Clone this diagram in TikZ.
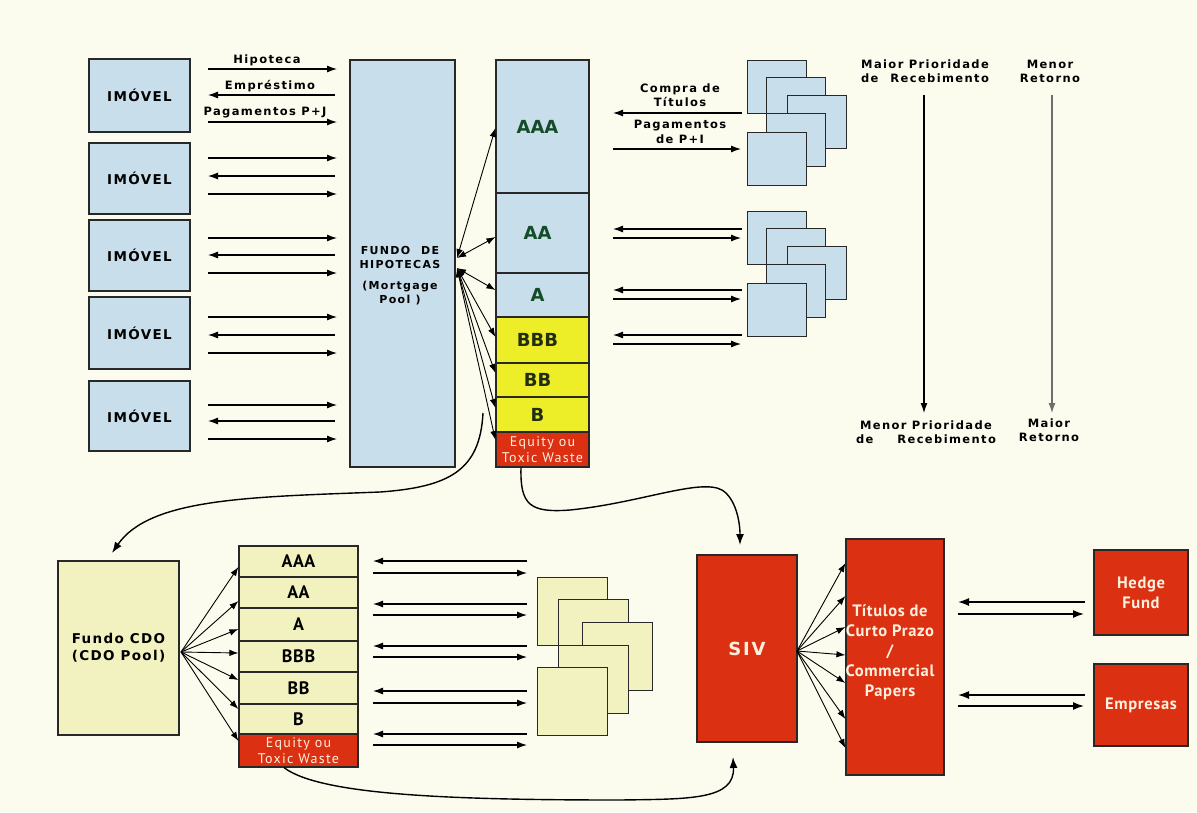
\documentclass[tikz,border=0pt]{standalone}
\usepackage{fontspec}
\setmainfont{DejaVu Sans}
\newfontfamily\wsp{DejaVu Sans}[LetterSpace=12]
\newfontfamily\wsm{DejaVu Sans}[LetterSpace=10]
\newfontfamily\nar{PT Sans}[LetterSpace=4]
\newfontfamily\narw{PT Sans}[LetterSpace=9]
\usetikzlibrary{arrows.meta}
\definecolor{bg}{RGB}{252,252,238}
\definecolor{lblue}{RGB}{200,223,235}
\definecolor{tyel}{RGB}{238,238,40}
\definecolor{tred}{RGB}{220,48,18}
\definecolor{cyel}{RGB}{242,242,192}
\definecolor{dgreen}{RGB}{20,75,40}
\definecolor{dolive}{RGB}{35,45,15}
\definecolor{edge}{RGB}{40,40,40}
\definecolor{cream}{RGB}{255,240,222}
\definecolor{gline}{RGB}{110,110,110}
\newcommand\imf{\wsm\bfseries\fontsize{13.5}{15}\selectfont}
\newcommand\lbf{\wsp\bfseries\fontsize{11.5}{14.5}\selectfont}
\newcommand\fhf{\wsp\bfseries\fontsize{11}{14}\selectfont}
\newcommand\trf{\bfseries\fontsize{18}{20}\selectfont}
\newcommand\eqf{\narw\fontsize{14}{16}\selectfont}
\newcommand\prf{\wsp\bfseries\fontsize{11.5}{14}\selectfont}
\newcommand\cdf{\wsm\bfseries\fontsize{13.5}{17}\selectfont}
\newcommand\ctf{\nar\bfseries\fontsize{18}{19}\selectfont}
\newcommand\svf{\wsm\bfseries\fontsize{18}{20}\selectfont}
\newcommand\rdf{\nar\bfseries\fontsize{16.5}{20}\selectfont}
\begin{document}
\begin{tikzpicture}[x=1pt,y=-1pt,
  bx/.style={draw=edge,line width=1.2pt,inner sep=0pt,align=center},
  bluebx/.style={bx,fill=lblue},
  yelbx/.style={bx,fill=tyel},
  redbx/.style={bx,fill=tred,text=cream},
  cyelbx/.style={bx,fill=cyel},
  trtxt/.style={font=\trf,xshift=-5pt},
  arrw/.style={line width=1.1pt,-{Latex[length=10pt,width=7pt]}},
  thk/.style={line width=1.5pt,-{Latex[length=11pt,width=8pt]}},
  dbl/.style={line width=0.9pt,{Latex[length=9pt,width=6.5pt]}-{Latex[length=9pt,width=6.5pt]}},
  fan/.style={line width=0.9pt,-{Latex[length=9pt,width=6.5pt]}},
  curv/.style={line width=1.4pt,-{Latex[length=11pt,width=8pt]}}]
\fill[bg] (0,0) rectangle (1197,812);
\useasboundingbox (0,0) rectangle (1197,812);

% ---------- IMOVEL boxes ----------
\foreach \n/\cy/\h in {1/95.5/73,2/178.5/71,3/255.5/71,4/333/72,5/416/70}
  \node[bluebx,minimum width=101pt,minimum height=\h pt,font=\imf] (im\n) at (139.5,\cy) {IMÓVEL};

\foreach \y in {69,122,158,194,238,273,317,353,405,439}
  \draw[arrw] (208,\y) -- (337,\y);
\foreach \y in {95,176,255,335,421}
  \draw[arrw] (335,\y) -- (208,\y);
\node[font=\lbf] (lhip) at (267,60) {Hipoteca};
\node[font=\lbf] (lemp) at (270,86) {Empréstimo};
\node[font=\lbf] (lpag) at (265,113) {Pagamentos P+J};

% ---------- Fundo de hipotecas ----------
\node[bluebx,minimum width=105pt,minimum height=407pt] (fh) at (402.5,263.5) {};
\node[font=\fhf,align=center] (fhtxt) at (400,276) {FUNDO\quad DE\\HIPOTECAS\\[7pt](Mortgage\\Pool )};

% ---------- Tranches ----------
\node[bluebx,minimum width=93pt,minimum height=133pt] (tAAA) at (542.5,126.5) {};
\node[bluebx,minimum width=93pt,minimum height=80pt] (tAA) at (542.5,233) {};
\node[bluebx,minimum width=93pt,minimum height=44pt] (tA) at (542.5,295) {};
\node[yelbx,minimum width=93pt,minimum height=46pt] (tBBB) at (542.5,340) {};
\node[yelbx,minimum width=93pt,minimum height=34pt] (tBB) at (542.5,380) {};
\node[yelbx,minimum width=93pt,minimum height=35pt] (tB) at (542.5,414.5) {};
\node[redbx,minimum width=93pt,minimum height=35pt,font=\eqf] (tEQ) at (542.5,449.5) {Equity ou\\Toxic Waste};
\node[trtxt,text=dgreen] (lAAA) at (tAAA) {AAA};
\node[trtxt,text=dgreen] (lAA) at (tAA) {AA};
\node[trtxt,text=dgreen] (lA) at (tA) {A};
\node[trtxt,text=dolive] (lBBB) at (tBBB) {BBB};
\node[trtxt,text=dolive] (lBB) at (tBB) {BB};
\node[trtxt,text=dolive] (lB) at (tB) {B};

\coordinate (fo1) at (457,258);
\coordinate (fo2) at (457,268);
\draw[dbl] (fo1) -- (tAAA.west |- 0,128);
\draw[dbl] (fo1) -- (tAA.west |- 0,237);
\draw[dbl] (fo2) -- (tA.west |- 0,290);
\draw[dbl] (fo2) -- (tBBB.west |- 0,337);
\draw[dbl] (fo2) -- (tBB.west |- 0,373);
\draw[dbl] (fo2) -- (tB.west |- 0,408);
\draw[dbl] (fo2) -- (tEQ.west |- 0,440);

% ---------- investor stacks (top) ----------
\foreach \s/\dy in {p/0,q/151}{
  \foreach \i/\x/\y in {1/747/60,2/766/77,3/787/95,4/766/113,5/747/132}
    \node[bluebx,minimum width=59pt,minimum height=53pt,anchor=north west] (s\s\i) at (\x,\y+\dy) {};
}
\foreach \y in {113,229,290,335}
  \draw[arrw] (742,\y) -- (613,\y);
\foreach \y in {149,238,299,344}
  \draw[arrw] (613,\y) -- (741,\y);
\node[font=\lbf,align=center] (lcomp) at (680,95) {Compra de\\Títulos};
\node[font=\lbf,align=center] (lpagpi) at (680,132) {Pagamentos\\de P+I};

% ---------- priority / return ----------
\node[font=\prf,align=center] (mp1) at (925,71) {Maior Prioridade\\\makebox[128pt]{de\hfill Recebimento}};
\node[font=\prf,align=center] (mp2) at (926,432) {Menor Prioridade\\\makebox[140pt]{de\hfill Recebimento}};
\node[font=\prf,align=center] (mr1) at (1050,71) {Menor\\Retorno};
\node[font=\prf,align=center] (mr2) at (1049,430) {Maior\\Retorno};
\draw[arrw] (924,95) -- (924,413);
\draw[arrw,gline] (1052,95) -- (1052,413);

% ---------- CDO ----------
\node[cyelbx,minimum width=121pt,minimum height=174pt,font=\cdf] (cdo) at (118.5,648) {Fundo CDO\\(CDO Pool)};
\node[cyelbx,minimum width=119pt,minimum height=31pt,font=\ctf] (cAAA) at (298.5,561.5) {AAA};
\node[cyelbx,minimum width=119pt,minimum height=31pt,font=\ctf] (cAA) at (298.5,592.5) {AA};
\node[cyelbx,minimum width=119pt,minimum height=33pt,font=\ctf] (cA) at (298.5,624.5) {A};
\node[cyelbx,minimum width=119pt,minimum height=31pt,font=\ctf] (cBBB) at (298.5,656.5) {BBB};
\node[cyelbx,minimum width=119pt,minimum height=32pt,font=\ctf] (cBB) at (298.5,688) {BB};
\node[cyelbx,minimum width=119pt,minimum height=30pt,font=\ctf] (cB) at (298.5,719) {B};
\node[redbx,minimum width=119pt,minimum height=33pt,font=\eqf] (cEQ) at (298.5,750.5) {Equity ou\\Toxic Waste};

\coordinate (co) at (181,652);
\draw[fan] (co) -- (cAAA.west |- 0,567);
\draw[fan] (co) -- (cAA.west |- 0,601);
\draw[fan] (co) -- (cA.west |- 0,629);
\draw[fan] (co) -- (cBBB.west |- 0,653);
\draw[fan] (co) -- (cBB.west |- 0,680);
\draw[fan] (co) -- (cB.west |- 0,709);
\draw[fan] (co) -- (cEQ.west |- 0,741);

\foreach \y in {561,604,646,691,734}
  \draw[arrw] (527,\y) -- (373,\y);
\foreach \y in {573,615,657,703,745}
  \draw[arrw] (373,\y) -- (527,\y);

\foreach \i/\x/\y in {1/537/577,2/558/599,3/582/622,4/558/645,5/537/667}
  \node[cyelbx,minimum width=70pt,minimum height=68pt,anchor=north west] (cs\i) at (\x,\y) {};

% ---------- SIV side ----------
\node[redbx,minimum width=100pt,minimum height=187pt,font=\svf] (siv) at (747,648.5) {SIV};
\node[redbx,minimum width=98pt,minimum height=236pt] (tit) at (895,657) {};
\node[font=\rdf,text=cream,align=center] (tittxt) at (890,652) {Títulos de\\Curto Prazo\\/\\Commercial\\Papers};
\node[redbx,minimum width=94pt,minimum height=85pt,font=\rdf] (hf) at (1141,592.5) {Hedge\\Fund};
\node[redbx,minimum width=94pt,minimum height=82pt,font=\rdf] (emp) at (1141,705) {Empresas};

\coordinate (so) at (797,651);
\foreach \y in {563,596,627,655,683,719,748}
  \draw[fan] (so) -- (tit.west |- 0,\y);

\draw[thk] (1085,602) -- (958,602);
\draw[thk] (958,614) -- (1084,614);
\draw[thk] (1085,695) -- (958,695);
\draw[thk] (958,706) -- (1084,706);

% ---------- curves ----------
\draw[curv] (483,413) .. controls (480,470) and (450,487) .. (380,492)
            .. controls (250,497) and (150,498) .. (112,553);
\draw[curv] (tEQ.south -| 521,0) .. controls (520,505) and (530,513) .. (570,510)
            .. controls (640,503) and (700,478) .. (722,490)
            .. controls (735,498) and (740,520) .. (740,545);
\draw[curv] (cEQ.south -| 284,0) .. controls (320,795) and (450,800) .. (620,800)
            .. controls (690,799) and (735,800) .. (733,757);
\end{tikzpicture}
\end{document}
